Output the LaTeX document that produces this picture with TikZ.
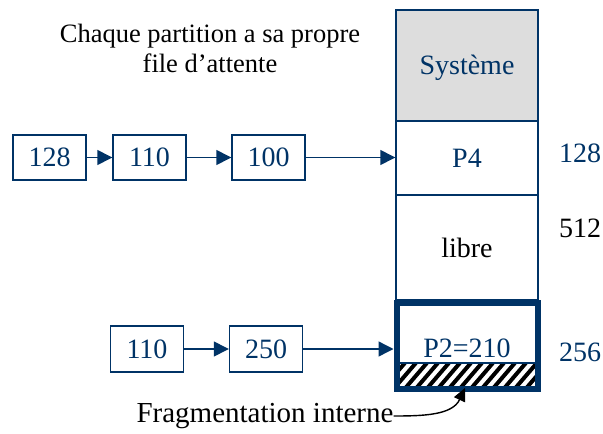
\documentclass[tikz,border=0pt]{standalone}
\usepackage{fontspec}
\setmainfont{Liberation Serif}
\usetikzlibrary{arrows.meta,patterns}
\definecolor{navy}{RGB}{0,51,102}
\definecolor{sysgray}{RGB}{221,221,221}
\tikzset{
  qbox/.style={draw=navy,line width=1.4pt,text=navy,minimum width=73pt,minimum height=45pt,inner sep=0pt,font=\fontsize{28}{30}\selectfont},
  mem/.style={draw=navy,line width=1.4pt,minimum width=142pt,inner sep=0pt,font=\fontsize{28}{30}\selectfont},
  link/.style={draw=navy,line width=1.4pt,-{Triangle[length=15pt,width=15pt]}},
  size/.style={font=\fontsize{28}{30}\selectfont,inner sep=0pt},
}
\begin{document}
\begin{tikzpicture}[x=1pt,y=-1pt]
\useasboundingbox (0,0) rectangle (603,434);

% memory column
\node[mem,fill=sysgray,minimum height=111pt] (sys) at (467,65.5) {};
\node[text=navy,font=\fontsize{28}{30}\selectfont,inner sep=0pt] (syslbl) at (467,68) {Système};
\node[mem,minimum height=74pt,text=navy] (p4) at (467,158) {P4};
\node[mem,minimum height=105pt] (libre) at (467,247.5) {libre};

% partition P2 with internal fragmentation
\coordinate (hatchsw) at (399,386);
\coordinate (hatchne) at (535,363);
\begin{scope}
  \clip (hatchsw) rectangle (hatchne);
  \foreach \i in {0,...,16} {
    \draw[line width=4pt,black] (380+11*\i,392) -- (380+11*\i+30,357);
  }
\end{scope}
\draw[navy,line width=1.4pt] (399,363) -- (535,363);
\node[draw=navy,line width=6pt,minimum width=141pt,minimum height=86pt,inner sep=0pt] (p2) at (467,346) {};
\node[text=navy,font=\fontsize{28}{30}\selectfont,inner sep=0pt] (p2lbl) at (467,348) {P2=210};

% sizes
\node[size,text=navy] (s128) at (580,153) {128};
\node[size] (s512) at (580,228) {512};
\node[size,text=navy] (s256) at (580,352) {256};

% queue of P4
\node[qbox] (a1) at (49.5,157.5) {128};
\node[qbox] (a2) at (149.5,157.5) {110};
\node[qbox] (a3) at (268.5,157.5) {100};
\draw[link] (a1) -- (a2);
\draw[link] (a2) -- (a3);
\draw[link] (a3) -- (p4.west |- a3);

% queue of P2
\node[qbox,minimum height=46pt] (b1) at (147,349) {110};
\node[qbox,minimum height=46pt] (b2) at (266,349) {250};
\draw[link] (b1) -- (b2);
\draw[link] (b2) -- (p2.west |- b2);

% caption
\node[font=\fontsize{26.5}{30}\selectfont,align=center] (title) at (210,48) {Chaque partition a sa propre\\file d’attente};
\node[font=\fontsize{29}{30}\selectfont,inner sep=0pt] (frag) at (265,416) {Fragmentation interne};
\coordinate (fragtip) at (465,388);
\draw[black,line width=1.4pt,-{Triangle[length=13pt,width=12pt]}] (frag.east) to[out=0,in=-115] (fragtip);
\end{tikzpicture}
\end{document}
